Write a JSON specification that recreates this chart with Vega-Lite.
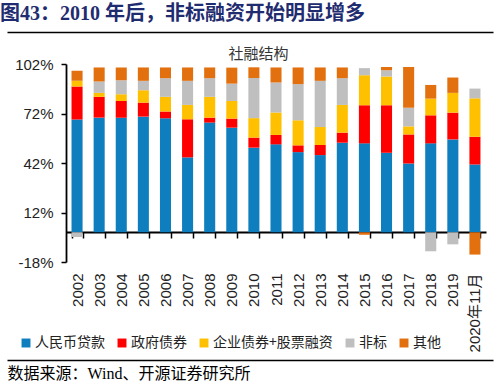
{
  "$schema": "https://vega.github.io/schema/vega-lite/v6.json",
  "autosize": "none",
  "width": 486,
  "height": 328,
  "padding": {"left": 7, "top": 32, "right": 7, "bottom": 27},
  "background": "white",
  "config": {"view": {"stroke": null}},
  "title": {
    "text": "图43：2010 年后，非标融资开始明显增多",
    "anchor": "start",
    "frame": "bounds",
    "orient": "top",
    "offset": 0,
    "dy": 2,
    "baseline": "middle",
    "font": "Liberation Serif, Noto Sans CJK SC",
    "fontSize": 20,
    "fontWeight": "bold",
    "color": "#1F2C6F"
  },
  "datasets": {
    "series": [
      {"type": "人民币贷款", "k": 1},
      {"type": "政府债券", "k": 2},
      {"type": "企业债券+股票融资", "k": 3},
      {"type": "非标", "k": 4},
      {"type": "其他", "k": 5}
    ],
    "main": [
      {"year": "2002", "type": "人民币贷款", "value": 68.3},
      {"year": "2002", "type": "政府债券", "value": 20.1},
      {"year": "2002", "type": "企业债券+股票融资", "value": 3.4},
      {"year": "2002", "type": "非标", "value": -2.8},
      {"year": "2002", "type": "其他", "value": 6.1},
      {"year": "2003", "type": "人民币贷款", "value": 69.5},
      {"year": "2003", "type": "政府债券", "value": 12.6},
      {"year": "2003", "type": "企业债券+股票融资", "value": 2.4},
      {"year": "2003", "type": "非标", "value": 6.9},
      {"year": "2003", "type": "其他", "value": 8.5},
      {"year": "2004", "type": "人民币贷款", "value": 69.5},
      {"year": "2004", "type": "政府债券", "value": 10.1},
      {"year": "2004", "type": "企业债券+股票融资", "value": 4.1},
      {"year": "2004", "type": "非标", "value": 8.5},
      {"year": "2004", "type": "其他", "value": 7.7},
      {"year": "2005", "type": "人民币贷款", "value": 70.1},
      {"year": "2005", "type": "政府债券", "value": 8.5},
      {"year": "2005", "type": "企业债券+股票融资", "value": 7.5},
      {"year": "2005", "type": "非标", "value": 5.7},
      {"year": "2005", "type": "其他", "value": 8.1},
      {"year": "2006", "type": "人民币贷款", "value": 69.1},
      {"year": "2006", "type": "政府债券", "value": 4.1},
      {"year": "2006", "type": "企业债券+股票融资", "value": 8.9},
      {"year": "2006", "type": "非标", "value": 11.3},
      {"year": "2006", "type": "其他", "value": 6.5},
      {"year": "2007", "type": "人民币贷款", "value": 45.4},
      {"year": "2007", "type": "政府债券", "value": 23.1},
      {"year": "2007", "type": "企业债券+股票融资", "value": 8.7},
      {"year": "2007", "type": "非标", "value": 14.6},
      {"year": "2007", "type": "其他", "value": 8.1},
      {"year": "2008", "type": "人民币贷款", "value": 66.5},
      {"year": "2008", "type": "政府债券", "value": 3.0},
      {"year": "2008", "type": "企业债券+股票融资", "value": 12.6},
      {"year": "2008", "type": "非标", "value": 11.3},
      {"year": "2008", "type": "其他", "value": 6.5},
      {"year": "2009", "type": "人民币贷款", "value": 63.4},
      {"year": "2009", "type": "政府债券", "value": 5.5},
      {"year": "2009", "type": "企业债券+股票融资", "value": 10.7},
      {"year": "2009", "type": "非标", "value": 10.5},
      {"year": "2009", "type": "其他", "value": 9.7},
      {"year": "2010", "type": "人民币贷款", "value": 51.3},
      {"year": "2010", "type": "政府债券", "value": 6.1},
      {"year": "2010", "type": "企业债券+股票融资", "value": 11.8},
      {"year": "2010", "type": "非标", "value": 24.3},
      {"year": "2010", "type": "其他", "value": 6.5},
      {"year": "2011", "type": "人民币贷款", "value": 53.3},
      {"year": "2011", "type": "政府债券", "value": 5.7},
      {"year": "2011", "type": "企业债券+股票融资", "value": 13.6},
      {"year": "2011", "type": "非标", "value": 18.2},
      {"year": "2011", "type": "其他", "value": 9.1},
      {"year": "2012", "type": "人民币贷款", "value": 48.6},
      {"year": "2012", "type": "政府债券", "value": 4.1},
      {"year": "2012", "type": "企业债券+股票融资", "value": 15.2},
      {"year": "2012", "type": "非标", "value": 21.9},
      {"year": "2012", "type": "其他", "value": 10.1},
      {"year": "2013", "type": "人民币贷款", "value": 46.8},
      {"year": "2013", "type": "政府债券", "value": 6.1},
      {"year": "2013", "type": "企业债券+股票融资", "value": 10.9},
      {"year": "2013", "type": "非标", "value": 28.0},
      {"year": "2013", "type": "其他", "value": 8.1},
      {"year": "2014", "type": "人民币贷款", "value": 54.3},
      {"year": "2014", "type": "政府债券", "value": 6.1},
      {"year": "2014", "type": "企业债券+股票融资", "value": 16.8},
      {"year": "2014", "type": "非标", "value": 16.2},
      {"year": "2014", "type": "其他", "value": 6.5},
      {"year": "2015", "type": "人民币贷款", "value": 53.9},
      {"year": "2015", "type": "政府债券", "value": 23.1},
      {"year": "2015", "type": "企业债券+股票融资", "value": 18.2},
      {"year": "2015", "type": "非标", "value": 4.3},
      {"year": "2015", "type": "其他", "value": -1.5},
      {"year": "2016", "type": "人民币贷款", "value": 48.2},
      {"year": "2016", "type": "政府债券", "value": 28.8},
      {"year": "2016", "type": "企业债券+股票融资", "value": 17.4},
      {"year": "2016", "type": "非标", "value": 3.8},
      {"year": "2016", "type": "其他", "value": 2.0},
      {"year": "2017", "type": "人民币贷款", "value": 41.7},
      {"year": "2017", "type": "政府债券", "value": 17.6},
      {"year": "2017", "type": "企业债券+股票融资", "value": 4.9},
      {"year": "2017", "type": "非标", "value": 11.3},
      {"year": "2017", "type": "其他", "value": 24.7},
      {"year": "2018", "type": "人民币贷款", "value": 53.9},
      {"year": "2018", "type": "政府债券", "value": 17.0},
      {"year": "2018", "type": "企业债券+股票融资", "value": 10.1},
      {"year": "2018", "type": "非标", "value": -11.5},
      {"year": "2018", "type": "其他", "value": 8.3},
      {"year": "2019", "type": "人民币贷款", "value": 56.3},
      {"year": "2019", "type": "政府债券", "value": 16.2},
      {"year": "2019", "type": "企业债券+股票融资", "value": 12.0},
      {"year": "2019", "type": "非标", "value": -7.3},
      {"year": "2019", "type": "其他", "value": 9.3},
      {"year": "2020年11月", "type": "人民币贷款", "value": 41.1},
      {"year": "2020年11月", "type": "政府债券", "value": 16.8},
      {"year": "2020年11月", "type": "企业债券+股票融资", "value": 23.3},
      {"year": "2020年11月", "type": "非标", "value": 5.9},
      {"year": "2020年11月", "type": "其他", "value": -13.5}
    ]
  },
  "resolve": {"scale": {"x": "independent"}, "axis": {"x": "independent"}},
  "layer": [
    {
      "data": {"name": "main"},
      "transform": [
        {"lookup": "type", "from": {"data": {"name": "series"}, "key": "type", "fields": ["k"]}}
      ],
      "mark": {"type": "bar"},
      "encoding": {
        "x": {
          "field": "year",
          "type": "ordinal",
          "sort": null,
          "scale": {"range": [59, 479], "paddingInner": 0.5, "paddingOuter": 0.25},
          "axis": {
            "orient": "bottom",
            "offset": -128,
            "title": "数据来源：Wind、开源证券研究所",
            "titleX": 0,
            "titleY": 141,
            "titleAlign": "left",
            "titleAnchor": "start",
            "titleBaseline": "middle",
            "titleAngle": 0,
            "titleFont": "Liberation Serif, Noto Sans CJK SC",
            "titleFontSize": 16,
            "titleFontWeight": "normal",
            "titleColor": "#000000",
            "labelAngle": -90,
            "labelFont": "Liberation Sans, Noto Sans CJK SC",
            "labelFontSize": 15,
            "labelColor": "#222222",
            "labelPadding": 35,
            "labelOverlap": false,
            "tickSize": 6,
            "tickColor": "#000000",
            "tickWidth": 1.5,
            "tickBand": "extent",
            "domainColor": "#000000",
            "domainWidth": 1.8,
            "grid": false
          }
        },
        "y": {
          "field": "value",
          "type": "quantitative",
          "stack": "zero",
          "scale": {"domain": [-18, 102], "range": [230, 32], "nice": false, "zero": false},
          "axis": {
            "orient": "left",
            "offset": -59,
            "values": [-18, 12, 42, 72, 102],
            "labelExpr": "datum.value + '%'",
            "labelFont": "Liberation Sans",
            "labelFontSize": 15,
            "labelColor": "#222222",
            "labelPadding": 8,
            "tickSize": 5,
            "tickColor": "#000000",
            "tickWidth": 1.5,
            "domainColor": "#000000",
            "domainWidth": 1.8,
            "grid": false,
            "title": "社融结构",
            "titleX": 192,
            "titleY": 21,
            "titleAngle": 0,
            "titleAlign": "center",
            "titleBaseline": "middle",
            "titleFont": "Noto Sans CJK SC",
            "titleFontSize": 15,
            "titleFontWeight": "normal",
            "titleColor": "#333333"
          }
        },
        "color": {
          "field": "type",
          "type": "nominal",
          "scale": {
            "domain": ["人民币贷款", "政府债券", "企业债券+股票融资", "非标", "其他"],
            "range": ["#0E7EBE", "#FF0000", "#FFC000", "#BFBFBF", "#E2700F"]
          },
          "legend": {
            "orient": "none",
            "legendX": 12,
            "legendY": 304,
            "direction": "horizontal",
            "title": null,
            "symbolType": "square",
            "symbolSize": 80,
            "symbolStrokeWidth": 0,
            "labelFont": "Noto Sans CJK SC",
            "labelFontSize": 14,
            "labelColor": "#222222",
            "columnPadding": 10,
            "labelOffset": 2,
            "padding": 0,
            "offset": 0
          }
        },
        "order": {"field": "k", "type": "quantitative", "sort": "ascending"}
      }
    },
    {
      "data": {"name": "main"},
      "mark": {"type": "tick", "opacity": 0},
      "encoding": {
        "x": {
          "field": "year",
          "type": "ordinal",
          "sort": null,
          "axis": {
            "orient": "top",
            "offset": 0,
            "title": null,
            "labels": false,
            "ticks": false,
            "grid": false,
            "domain": true,
            "domainColor": "#000000",
            "domainWidth": 1.3
          }
        }
      }
    },
    {
      "data": {"name": "main"},
      "mark": {"type": "tick", "opacity": 0},
      "encoding": {
        "x": {
          "field": "year",
          "type": "ordinal",
          "sort": null,
          "axis": {
            "orient": "bottom",
            "offset": 0,
            "title": null,
            "labels": false,
            "ticks": false,
            "grid": false,
            "domain": true,
            "domainColor": "#000000",
            "domainWidth": 1.3
          }
        }
      }
    }
  ]
}
